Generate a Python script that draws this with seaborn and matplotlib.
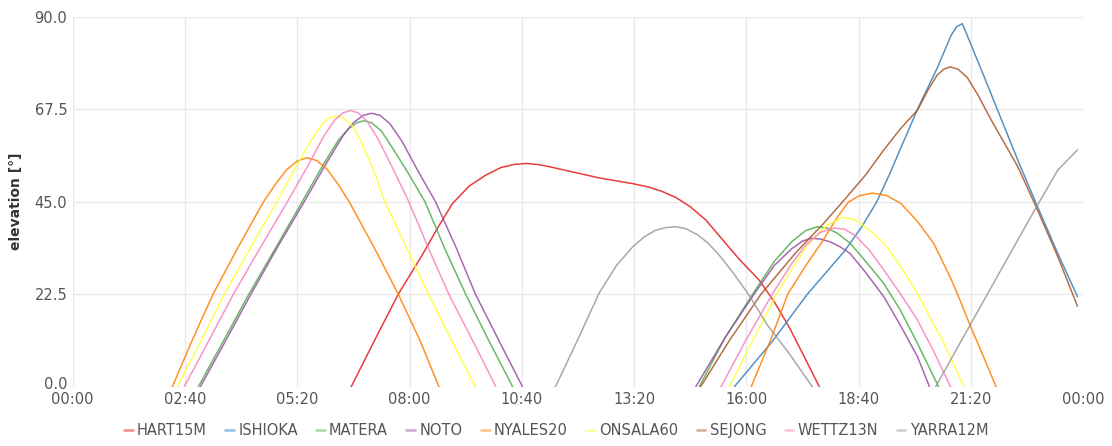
import numpy as np
import pandas as pd
import matplotlib
matplotlib.use("Agg")
import matplotlib.pyplot as plt
import matplotlib.transforms as mtransforms
from matplotlib.lines import Line2D
import seaborn as sns

nan = np.nan

# time in minutes after 00:00, elevation in degrees; NaN separates passes
HART15M_T = [397, 430, 464, 498, 520, 541, 565, 589, 610, 630, 647, 665, 685, 703, 750, 798, 820, 840, 860,
             880, 902, 925, 950, 978, 1000, 1021, 1042, 1064]
HART15M_E = [0, 11.2, 22.5, 32, 38.6, 44.5, 48.8, 51.5, 53.3, 54.1, 54.3, 54, 53.3, 52.6, 50.8, 49.4, 48.6, 47.5, 46,
             43.8, 40.6, 36, 31, 26, 20.6, 14.5, 7.5, 0]

ISHIOKA_T = [943, 997, 1047, 1100, 1125, 1146, 1165, 1180, 1204, 1232, 1252, 1260, 1268, 1299, 1347, 1375, 1404, 1432]
ISHIOKA_E = [0, 11, 22.5, 33, 39, 45, 52, 58, 67.5, 77.5, 85.5, 87.6, 88.3, 75.4, 55.1, 43.8, 32.4, 21.9]

MATERA_T = [179, 215, 251, 289, 327, 357, 378, 393, 405, 415, 426, 440, 456, 478, 502, 531, 560, 593, 627, nan,
            893, 930, 969, 1000, 1025, 1045, 1061, 1075, 1090, 1108, 1130, 1156, 1180, 1204, 1234]
MATERA_E = [0, 11.2, 22.5, 33.7, 45, 54, 59.8, 62.8, 64.2, 64.7, 64.2, 62.2, 58, 52, 45, 33.3, 22.5, 11.2, 0, nan,
            0, 12, 22.5, 30.5, 35.3, 38, 38.9, 38.6, 37.3, 34.9, 30.5, 25.1, 18.5, 10.5, 0]

NOTO_T = [182, 218, 254, 292, 330, 362, 385, 400, 414, 426, 438, 452, 470, 492, 517, 546, 574, 608, 641, nan,
          888, 930, 971, 1000, 1025, 1040, 1052, 1066, 1080, 1094, 1108, 1130, 1156, 1180, 1204, 1221]
NOTO_E = [0, 11.2, 22.5, 34, 45, 54.5, 61, 64.2, 66, 66.5, 66, 64, 59.5, 52.5, 45, 34, 22.5, 11, 0, nan,
          0, 12, 22.5, 29.5, 33.6, 35.4, 36.1, 35.9, 35.2, 34, 32.4, 27.8, 21.9, 14.8, 7.3, 0]

NYALES20_T = [142, 170, 200, 235, 272, 290, 305, 320, 334, 348, 363, 378, 394, 430, 464, 495, 522, nan,
              967, 995, 1019, 1045, 1069, 1090, 1105, 1120, 1140, 1160, 1180, 1204, 1227, 1251, 1261, 1280, 1298, 1316]
NYALES20_E = [0, 11.2, 22.5, 33.7, 45, 49.5, 52.8, 54.9, 55.7, 55, 52.8, 49.3, 45, 33.7, 22.5, 11.2, 0, nan,
              0, 11.5, 22.5, 29.5, 35.5, 41.3, 44.8, 46.4, 47.1, 46.5, 44.6, 40.2, 34.9, 26.5, 22.5, 14.5, 7.3, 0]

ONSALA60_T = [149, 183, 216, 253, 291, 320, 340, 355, 365, 375, 385, 397, 410, 428, 445, 476, 507, 540, 574, nan,
              936, 970, 1003, 1030, 1050, 1075, 1097, 1115, 1135, 1156, 1180, 1204, 1222, 1242, 1270]
ONSALA60_E = [0, 11.2, 22.5, 33.7, 45, 54, 60, 63.8, 65.3, 65.9, 65.5, 63.8, 60, 53, 45, 33.7, 22.5, 11.2, 0, nan,
              0, 11.5, 22.5, 30, 35, 39.3, 41.2, 40.6, 38.2, 34.9, 29.3, 22.7, 16.8, 10.5, 0]

SEJONG_T = [895, 935, 981, 1030, 1069, 1100, 1130, 1156, 1180, 1204, 1220, 1232, 1242, 1251, 1262, 1275, 1290,
            1309, 1347, 1375, 1404, 1432]
SEJONG_E = [0, 11, 22.5, 32.5, 39.5, 45.5, 51.5, 57.6, 62.8, 67.3, 72.5, 75.8, 77.3, 77.8, 77.2, 75.2, 71,
            64.9, 53.5, 43, 31.6, 19.6]

WETTZ13N_T = [159, 194, 229, 267, 306, 336, 358, 373, 385, 396, 407, 420, 436, 455, 479, 507, 536, 570, 603, nan,
              924, 960, 997, 1025, 1045, 1065, 1085, 1100, 1115, 1135, 1156, 1180, 1204, 1228, 1251]
WETTZ13N_E = [0, 11.2, 22.5, 33.7, 45, 54, 61, 64.8, 66.6, 67.2, 66.6, 64.5, 60, 53.5, 45, 33.7, 22.5, 11.2, 0, nan,
              0, 11.5, 22.5, 30, 34.5, 37.5, 38.6, 38.3, 36.8, 33.3, 28.4, 22.5, 16.2, 8.3, 0]

YARRA12M_T = [688, 720, 750, 775, 798, 815, 830, 845, 859, 873, 890, 905, 920, 940, 963, 990, 1021, 1054, nan,
              1230, 1275, 1323, 1371, 1404, 1432]
YARRA12M_E = [0, 11.5, 22.7, 29.5, 34, 36.5, 38, 38.7, 38.9, 38.5, 37, 35, 32.3, 28, 22.5, 15, 8.1, 0, nan,
              0, 13.8, 28.4, 43, 52.7, 57.6]

STATIONS = ["HART15M", "ISHIOKA", "MATERA", "NOTO", "NYALES20",
            "ONSALA60", "SEJONG", "WETTZ13N", "YARRA12M"]
COLORS = ["#e41a1c", "#377eb8", "#4daf4a", "#984ea3", "#ff7f00",
          "#ffff33", "#a65628", "#f781bf", "#999999"]

X_TICKS = [0, 160, 320, 480, 640, 800, 960, 1120, 1280, 1440]
X_LABELS = ["00:00", "02:40", "05:20", "08:00", "10:40", "13:20", "16:00", "18:40", "21:20", "00:00"]
Y_TICKS = [0, 22.5, 45, 67.5, 90]
Y_LABELS = ["0.0", "22.5", "45.0", "67.5", "90.0"]

series = {
    "HART15M": (HART15M_T, HART15M_E), "ISHIOKA": (ISHIOKA_T, ISHIOKA_E),
    "MATERA": (MATERA_T, MATERA_E), "NOTO": (NOTO_T, NOTO_E),
    "NYALES20": (NYALES20_T, NYALES20_E), "ONSALA60": (ONSALA60_T, ONSALA60_E),
    "SEJONG": (SEJONG_T, SEJONG_E), "WETTZ13N": (WETTZ13N_T, WETTZ13N_E),
    "YARRA12M": (YARRA12M_T, YARRA12M_E),
}

rows = []
for name in STATIONS:
    t, e = series[name]
    seg = 0
    for ti, ei in zip(t, e):
        if np.isnan(ti):
            seg += 1
            continue
        rows.append({"station": name, "seg": f"{name}_{seg}", "time": ti, "elev": ei})
df = pd.DataFrame(rows)

sns.set_theme(style="white")
plt.rcParams["font.family"] = ["DejaVu Sans"]

fig = plt.figure(figsize=(11.12, 4.46), dpi=100)
ax = fig.add_axes([0.0654, 0.133, 0.9086, 0.8295])

palette = dict(zip(STATIONS, COLORS))
sns.lineplot(data=df, x="time", y="elev", hue="station", units="seg",
             estimator=None, sort=False, palette=palette, hue_order=STATIONS,
             linewidth=1.1, alpha=0.85, legend=False, ax=ax)

ax.set_xlim(0, 1440)
ax.set_ylim(0, 90)
ax.set_xticks(X_TICKS)
ax.set_xticklabels(X_LABELS)
ax.set_yticks(Y_TICKS)
ax.set_yticklabels(Y_LABELS)
ax.grid(True, color="#e8e8e8", linewidth=0.9)
for s in ax.spines.values():
    s.set_visible(False)
ax.tick_params(axis="both", length=0, labelsize=10.5, colors="#555555")
ax.tick_params(axis="x", pad=4)
ax.tick_params(axis="y", pad=4)
# lift the "0.0" label slightly, as in the reference
zero_lbl = ax.get_yticklabels()[0]
zero_lbl.set_transform(zero_lbl.get_transform() +
                       mtransforms.ScaledTranslation(0, 2.5 / 72, fig.dpi_scale_trans))
ax.set_xlabel("")
ax.set_ylabel("elevation [°]", fontsize=10, fontweight="bold", color="#333333", labelpad=8)

handles = [Line2D([0], [0], color=c, lw=2, alpha=0.45) for c in COLORS]
fig.legend(handles, STATIONS, loc="lower center", bbox_to_anchor=(0.5, -0.012),
           ncol=9, frameon=False, fontsize=10.5, handlelength=0.6,
           handletextpad=0.3, columnspacing=1.25, labelcolor="#555555")

fig.savefig("out.png", dpi=100)
